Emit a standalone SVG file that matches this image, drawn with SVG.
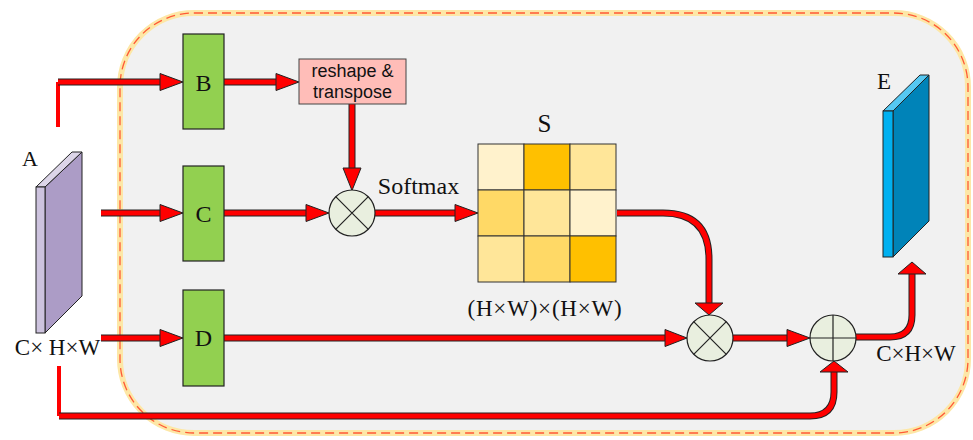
<svg xmlns="http://www.w3.org/2000/svg" xmlns:xlink="http://www.w3.org/1999/xlink" width="973" height="440" viewBox="0 0 973 440">
  <style>
    .serif { font-family: "Liberation Serif", "Times New Roman", serif; fill: #111; }
    .sans { font-family: "Liberation Sans", Arial, sans-serif; fill: #111; }
    .block { fill: #92d050; stroke: #222; stroke-width: 1.2; }
    .op { fill: #e9efdf; stroke: #222; stroke-width: 1.2; }
    .opline { stroke: #222; stroke-width: 1.2; fill: none; }
    .cell { stroke: #333; stroke-width: 1; }
    .edge { fill: none; stroke: #222; stroke-width: 7; stroke-linejoin: round; }
    .core { fill: none; stroke: #ff0000; stroke-width: 5; stroke-linejoin: round; }
    .lead { fill: none; stroke: #ff0000; stroke-width: 4; }
    .head { fill: #ff0000; stroke: #222; stroke-width: 1; stroke-linejoin: miter; }
  </style>
  <defs>
    <path id="w1" d="M58,82 H162"/>
    <path id="w2" d="M224,82 H278"/>
    <path id="w3" d="M352,104 V170"/>
    <path id="w4" d="M101,213 H162"/>
    <path id="w5" d="M224,213 H308"/>
    <path id="w6" d="M375,213 H457"/>
    <path id="w7" d="M617,213 H663 Q709,213 709,259 V304"/>
    <path id="w8" d="M101,338 H162"/>
    <path id="w9" d="M224,338 H666"/>
    <path id="w10" d="M733,338 H789"/>
    <path id="w11" d="M856,337 H890 Q912,337 912,315 V274"/>
    <path id="w12" d="M59,416 H810 Q834,416 834,392 V372"/>
  </defs>

  <!-- attention module panel -->
  <g id="panel">
    <rect x="120" y="13" width="848" height="420" rx="74" ry="74" fill="#f1f1f1" stroke="#fde7a6" stroke-width="6"/>
    <rect x="120" y="13" width="848" height="420" rx="74" ry="74" fill="none" stroke="#ff5a36" stroke-width="1.3" stroke-dasharray="9,5"/>
  </g>

  <!-- connectors -->
  <g id="connectors">
    <path class="lead" d="M58,127 V82"/>
    <path class="lead" d="M59,366 V416"/>
    <use xlink:href="#w1" class="edge"/><use xlink:href="#w1" class="core"/>
    <use xlink:href="#w2" class="edge"/><use xlink:href="#w2" class="core"/>
    <use xlink:href="#w3" class="edge"/><use xlink:href="#w3" class="core"/>
    <use xlink:href="#w4" class="edge"/><use xlink:href="#w4" class="core"/>
    <use xlink:href="#w5" class="edge"/><use xlink:href="#w5" class="core"/>
    <use xlink:href="#w6" class="edge"/><use xlink:href="#w6" class="core"/>
    <use xlink:href="#w7" class="edge"/><use xlink:href="#w7" class="core"/>
    <use xlink:href="#w8" class="edge"/><use xlink:href="#w8" class="core"/>
    <use xlink:href="#w9" class="edge"/><use xlink:href="#w9" class="core"/>
    <use xlink:href="#w10" class="edge"/><use xlink:href="#w10" class="core"/>
    <use xlink:href="#w11" class="edge"/><use xlink:href="#w11" class="core"/>
    <use xlink:href="#w12" class="edge"/><use xlink:href="#w12" class="core"/>
    <!-- arrowheads -->
    <polygon class="head" points="160,73.5 183,82 160,90.5"/>
    <polygon class="head" points="276,73.5 299,82 276,90.5"/>
    <polygon class="head" points="343,168 352,190.5 361,168"/>
    <polygon class="head" points="160,204.5 183,213 160,221.5"/>
    <polygon class="head" points="306,204.5 329,213 306,221.5"/>
    <polygon class="head" points="455,204.5 478,213 455,221.5"/>
    <polygon class="head" points="695,303 709,315 723,303"/>
    <polygon class="head" points="160,329.5 183,338 160,346.5"/>
    <polygon class="head" points="665,329.5 687,338 665,346.5"/>
    <polygon class="head" points="787,329.5 810,338 787,346.5"/>
    <polygon class="head" points="898,274 912,262 926,274"/>
    <polygon class="head" points="820,372 834,361 848,372"/>
  </g>

  <!-- input feature map A -->
  <g id="A">
    <polygon points="45,187 82,152 82,296 45,333" fill="#ac9cc6" stroke="#222" stroke-width="1"/>
    <polygon points="36,187 72,152 82,152 45,187" fill="#dcd5e8" stroke="#222" stroke-width="1"/>
    <rect x="36" y="187" width="9" height="146" fill="#cdc3de" stroke="#222" stroke-width="1"/>
    <text class="serif" x="30" y="166" font-size="22" text-anchor="middle">A</text>
    <text class="serif" x="57.5" y="355" font-size="23" text-anchor="middle">C× H×W</text>
  </g>

  <g id="B">
    <rect class="block" x="183" y="34" width="41" height="95"/>
    <text class="serif" x="203.5" y="91" font-size="24" text-anchor="middle">B</text>
  </g>

  <g id="C">
    <rect class="block" x="183" y="166" width="41" height="95"/>
    <text class="serif" x="203.5" y="222" font-size="24" text-anchor="middle">C</text>
  </g>

  <g id="D">
    <rect class="block" x="183" y="290" width="41" height="96"/>
    <text class="serif" x="203.5" y="346" font-size="24" text-anchor="middle">D</text>
  </g>

  <g id="reshape">
    <rect x="299" y="59" width="107" height="45" fill="#ffbdb8" stroke="#444" stroke-width="1"/>
    <text class="sans" x="352.5" y="77" font-size="18" text-anchor="middle">reshape &amp;</text>
    <text class="sans" x="352.5" y="98" font-size="18" text-anchor="middle">transpose</text>
  </g>

  <g id="mul1">
    <circle class="op" cx="352" cy="213" r="23"/>
    <path class="opline" d="M335.7,196.7 L368.3,229.3 M368.3,196.7 L335.7,229.3"/>
    <text class="serif" x="418.5" y="194" font-size="24" text-anchor="middle">Softmax</text>
  </g>

  <!-- attention map S -->
  <g id="S">
    <rect class="cell" x="478" y="144" width="46" height="46" fill="#fff2cc"/>
    <rect class="cell" x="524" y="144" width="46" height="46" fill="#ffc000"/>
    <rect class="cell" x="570" y="144" width="46" height="46" fill="#ffe699"/>
    <rect class="cell" x="478" y="190" width="46" height="46" fill="#ffd966"/>
    <rect class="cell" x="524" y="190" width="46" height="46" fill="#ffe699"/>
    <rect class="cell" x="570" y="190" width="46" height="46" fill="#fff2cc"/>
    <rect class="cell" x="478" y="236" width="46" height="46" fill="#ffe699"/>
    <rect class="cell" x="524" y="236" width="46" height="46" fill="#ffd966"/>
    <rect class="cell" x="570" y="236" width="46" height="46" fill="#ffc000"/>
    <text class="serif" x="544.5" y="132" font-size="25" text-anchor="middle">S</text>
    <text class="serif" x="545" y="316" font-size="23" text-anchor="middle" letter-spacing="0.8">(H×W)×(H×W)</text>
  </g>

  <g id="mul2">
    <circle class="op" cx="710" cy="338" r="23"/>
    <path class="opline" d="M693.7,321.7 L726.3,354.3 M726.3,321.7 L693.7,354.3"/>
  </g>

  <g id="add">
    <circle class="op" cx="833" cy="338" r="23"/>
    <path class="opline" d="M810,338 H856 M833,315 V361"/>
    <text class="serif" x="916" y="361" font-size="23" text-anchor="middle">C×H×W</text>
  </g>

  <!-- output feature map E -->
  <g id="E">
    <polygon points="893,111 929,75 929,221 893,257" fill="#0083b8" stroke="#222" stroke-width="1"/>
    <polygon points="883,111 920,75 929,75 893,111" fill="#55c8f2" stroke="#222" stroke-width="1"/>
    <rect x="883" y="111" width="10" height="146" fill="#00b0f0" stroke="#222" stroke-width="1"/>
    <text class="serif" x="884" y="89" font-size="23" text-anchor="middle">E</text>
  </g>
</svg>
